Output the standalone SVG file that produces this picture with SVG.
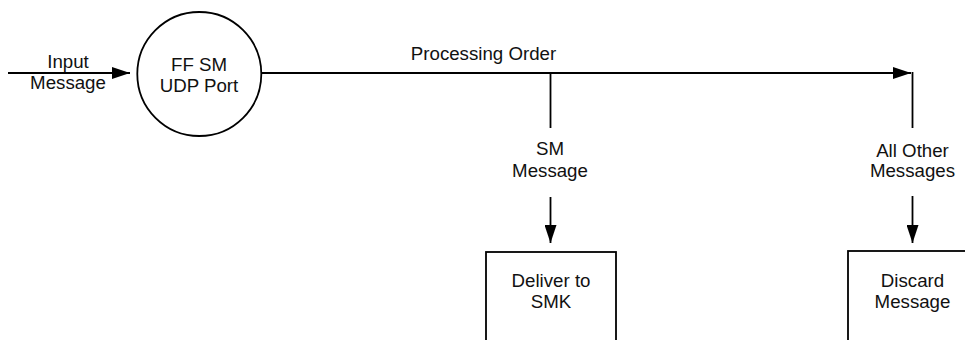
<svg xmlns="http://www.w3.org/2000/svg" width="965" height="340" viewBox="0 0 965 340">
  <defs>
    <marker id="arrow" markerUnits="userSpaceOnUse" markerWidth="18" markerHeight="12" viewBox="0 0 18 12" refX="18" refY="6" orient="auto">
      <path d="M0,0 L18,6 L0,12 Z" fill="#000"/>
    </marker>
    <style>
      .line { stroke: #000; stroke-width: 1.8; fill: none; }
      .shape { stroke: #000; stroke-width: 1.8; fill: #fff; }
      .lbl { font-family: "Liberation Sans", Arial, sans-serif; font-size: 18.7px; fill: #111; text-anchor: middle; }
    </style>
  </defs>
  <rect width="965" height="340" fill="#fff"/>

  <g id="connectors">
    <path class="line" d="M8,73 H130" marker-end="url(#arrow)"/>
    <path class="line" d="M261.5,73 H911" marker-end="url(#arrow)"/>
    <path class="line" d="M912.5,72 V128"/>
    <path class="line" d="M550.5,73 V128"/>
    <path class="line" d="M550.5,197 V243" marker-end="url(#arrow)"/>
    <path class="line" d="M912.5,196 V243" marker-end="url(#arrow)"/>
  </g>

  <g id="labels">
    <text class="lbl" x="68" y="67.5">Input</text>
    <text class="lbl" x="68" y="89">Message</text>
    <text class="lbl" x="483.5" y="60">Processing Order</text>
    <text class="lbl" x="550" y="155">SM</text>
    <text class="lbl" x="550" y="176.5">Message</text>
    <text class="lbl" x="912.5" y="156.5">All Other</text>
    <text class="lbl" x="912.5" y="177">Messages</text>
  </g>

  <g id="port">
    <circle class="shape" cx="199.3" cy="74" r="62"/>
    <text class="lbl" x="199" y="71">FF SM</text>
    <text class="lbl" x="199" y="92">UDP Port</text>
  </g>

  <g id="deliver">
    <rect class="shape" x="486" y="252" width="130" height="100"/>
    <text class="lbl" x="551" y="286.5">Deliver to</text>
    <text class="lbl" x="551" y="308">SMK</text>
  </g>

  <g id="discard">
    <rect class="shape" x="848" y="251" width="130" height="100"/>
    <text class="lbl" x="912.5" y="287">Discard</text>
    <text class="lbl" x="912.5" y="308">Message</text>
  </g>
</svg>
